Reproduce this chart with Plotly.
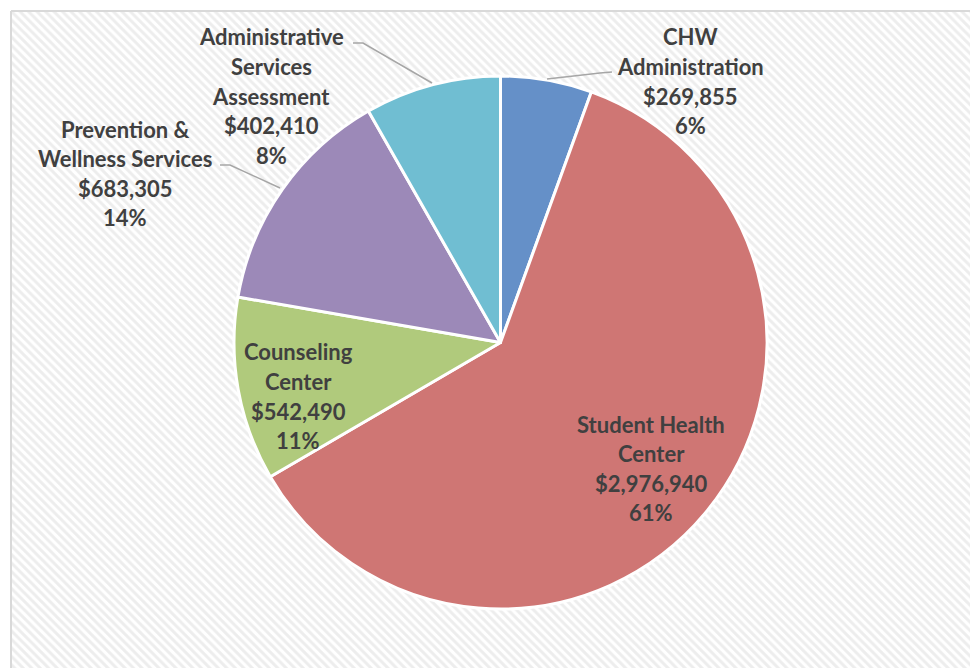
import plotly.graph_objects as go

# ---- data ----
label_lines = [
    ["CHW", "Administration"],
    ["Student Health", "Center"],
    ["Counseling", "Center"],
    ["Prevention &", "Wellness Services"],
    ["Administrative", "Services", "Assessment"],
]
categories = [" ".join(l) for l in label_lines]
values = [269855, 2976940, 542490, 683305, 402410]
colors = ["#6590c8", "#cf7674", "#b0ca7c", "#9c89b8", "#70bed2"]

W, H = 978, 668
OFF = 8  # page body margin
total = sum(values)

def px(x):
    return (x - OFF) / W

def py(y):
    return 1 - (y - OFF) / H

fig = go.Figure()

# background with diagonal stripes (hidden cartesian axes in pixel units)
fig.add_trace(go.Scatter(
    x=[11, 1000, 1000, 11, 11], y=[11, 11, 700, 700, 11],
    mode="lines", fill="toself",
    line=dict(color="#d9d9d9", width=2),
    fillcolor="white",
    fillpattern=dict(shape="\\", fgcolor="#dcdcdc", bgcolor="white",
                     size=6, solidity=0.5),
    hoverinfo="skip", showlegend=False,
))

cx, cy, r = 500.5, 342.5, 266.5
fig.add_trace(go.Pie(
    labels=categories, values=values, sort=False, direction="clockwise",
    rotation=0,
    marker=dict(colors=colors, line=dict(color="white", width=3)),
    textinfo="none", hoverinfo="skip", showlegend=False,
    domain=dict(x=[px(cx - r), px(cx + r)], y=[py(cy + r), py(cy - r)]),
))

# label positions: (center x, first line y) in pixels
label_pos = [(690, 37), (651, 424), (298, 352), (125, 129), (271, 37)]
line_gap = 29.5
annotations = []
for lines, v, (lx, ly) in zip(label_lines, values, label_pos):
    full = lines + ["${:,.0f}".format(v), "{:.0f}%".format(round(v / total * 100))]
    for i, t in enumerate(full):
        annotations.append(dict(
            x=px(lx), y=py(ly + i * line_gap), xref="paper", yref="paper",
            text="<b>" + t.replace("&", "&amp;") + "</b>", showarrow=False,
            xanchor="center", yanchor="middle",
            font=dict(family="Lato", size=22, color="#404040"),
        ))

leaders = [
    [(612, 72), (600, 73), (547, 79)],
    [(353, 43), (363, 43), (432, 83)],
    [(220, 165), (230, 165), (280, 188)],
]
shapes = []
for pts in leaders:
    path = "M " + " L ".join(f"{px(x)},{py(y)}" for x, y in pts)
    shapes.append(dict(type="path", path=path, xref="paper", yref="paper",
                       line=dict(color="#a6a6a6", width=1.5)))

fig.update_layout(
    width=W, height=H, margin=dict(l=0, r=0, t=0, b=0),
    paper_bgcolor="white", plot_bgcolor="rgba(0,0,0,0)",
    xaxis=dict(visible=False, range=[OFF, W + OFF], domain=[0, 1], fixedrange=True),
    yaxis=dict(visible=False, range=[H + OFF, OFF], domain=[0, 1], fixedrange=True),
    annotations=annotations, shapes=shapes,
)

fig.write_html("out.html")
